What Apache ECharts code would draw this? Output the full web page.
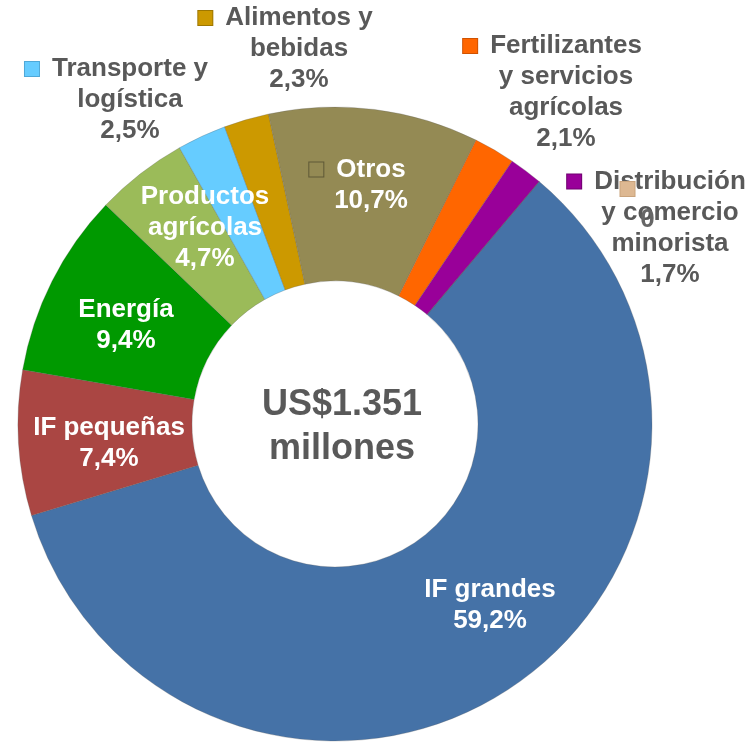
<!DOCTYPE html>
<html>
<head>
<meta charset="utf-8">
<script src="https://cdn.jsdelivr.net/npm/echarts@6/dist/echarts.min.js"></script>
<style>
html,body{margin:0;padding:0;background:#fff;}
#chart{width:751px;height:742px;}
</style>
</head>
<body>
<div id="chart"></div>
<script>
// ---- data ----
const categories = ['IF grandes', 'IF pequeñas', 'Energía', 'Productos\nagrícolas', 'Transporte y\nlogística', 'Alimentos y\nbebidas', 'Otros', 'Fertilizantes\ny servicios\nagrícolas', 'Distribución\ny comercio\nminorista', ''];
const values = [59.2, 7.4, 9.4, 4.7, 2.5, 2.3, 10.7, 2.1, 1.7, 0];
const centerText = ['US$1.351', 'millones'];

// ---- styles ----
const colors = ['#4572A7', '#AA4643', '#009900', '#9BBB59', '#66CCFF', '#CC9900', '#948A54', '#FF6600', '#990099', '#DDB892'];
const keyBorders = [null, null, null, null, '#4FA8D8', '#9E7700', '#5E5836', '#D05200', '#700070', '#C9A37C'];
const showKey = [false, false, false, false, true, true, true, true, true, true];
const labelColors = ['#fff', '#fff', '#fff', '#fff', '#595959', '#595959', '#fff', '#595959', '#595959', '#666666'];
const labelPos = [[490, 605], [109, 443], [126, 325], [205, 228], [116.5, 100], [285.5, 49], [357.5, 185], [552.5, 92.5], [656.5, 228], [634, 204.5]];

const FONT = '"Liberation Sans", Arial, Helvetica, sans-serif';
const LH = 31;

function fmtVal(v) {
  return v === 0 ? '0' : v.toFixed(1).replace('.', ',') + '%';
}

function buildItem(i) {
  const lines = categories[i] ? categories[i].split('\n') : [''];
  lines.push(fmtVal(values[i]));
  const parts = lines.map((ln, j) => {
    const txt = ln ? '{t|' + ln + '}' : '';
    if (showKey[i]) {
      return (j === 0 ? '{k|}{s|}' : '{p|}') + txt;
    }
    return txt;
  });
  const rich = {
    t: {color: labelColors[i], fontSize: 26, fontWeight: 'bold', fontFamily: FONT, lineHeight: LH},
    k: {width: 14, height: 14, backgroundColor: colors[i], borderColor: keyBorders[i] || colors[i], borderWidth: 1, lineHeight: LH},
    s: {width: 13, height: 14, lineHeight: LH},
    p: {width: 27, height: 14, lineHeight: LH}
  };
  return {
    value: values[i],
    name: categories[i] || ' ',
    itemStyle: {color: colors[i]},
    label: {formatter: parts.join('\n'), rich: rich, color: labelColors[i]}
  };
}

const dataItems = values.map((v, i) => buildItem(i));

const chart = echarts.init(document.getElementById('chart'), null, {renderer: 'canvas'});
chart.setOption({
  animation: false,
  backgroundColor: '#fff',
  graphic: [{
    type: 'text',
    x: 342,
    y: 427,
    z: 100,
    style: {
      text: centerText.join('\n'),
      align: 'center',
      verticalAlign: 'middle',
      fill: '#595959',
      font: 'bold 36px ' + FONT,
      lineHeight: 44
    }
  }],
  series: [{
    type: 'pie',
    center: [335, 424],
    radius: [143, 317],
    startAngle: 49.9,
    clockwise: true,
    avoidLabelOverlap: false,
    minShowLabelAngle: 0,
    itemStyle: {borderColor: 'rgba(90,90,90,0.45)', borderWidth: 0.6},
    label: {show: true, position: 'outside', fontFamily: FONT, fontSize: 26, fontWeight: 'bold', lineHeight: LH},
    labelLine: {show: false},
    emphasis: {disabled: true},
    labelLayout: function (params) {
      const p = labelPos[params.dataIndex];
      return {x: p[0], y: p[1], align: 'center', verticalAlign: 'middle'};
    },
    data: dataItems
  }]
});
</script>
</body>
</html>
